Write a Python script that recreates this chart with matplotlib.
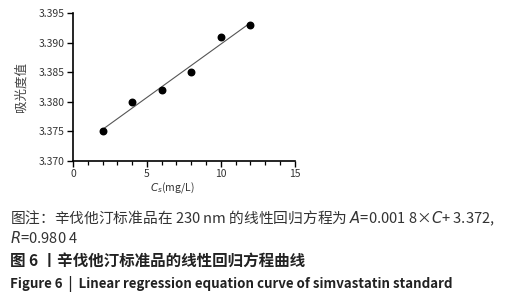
import numpy as np
import matplotlib
matplotlib.use("Agg")
import matplotlib.pyplot as plt
from matplotlib.ticker import MultipleLocator

plt.rcParams['font.family'] = ['Noto Sans CJK SC', 'DejaVu Sans']

conc = [2, 4, 6, 8, 10, 12]
absorb = [3.375, 3.380, 3.382, 3.385, 3.391, 3.393]
xticks = [0, 5, 10, 15]
yticks = [3.370, 3.375, 3.380, 3.385, 3.390, 3.395]

fig = plt.figure(figsize=(5.1, 3.0), dpi=100)
ax = fig.add_axes([0.143, 0.463, 0.435, 0.494])

slope, intercept = np.polyfit(conc, absorb, 1)
xl = np.array([min(conc), max(conc)])
ax.plot(xl, slope * xl + intercept, color='#555555', lw=0.8, zorder=2)
ax.scatter(conc, absorb, s=22, color='black', zorder=3)

ax.set_xlim(0, 15)
ax.set_ylim(3.370, 3.395)
ax.set_xticks(xticks)
ax.set_yticks(yticks)
ax.set_yticklabels([f"{v:.3f}" for v in yticks])
ax.xaxis.set_minor_locator(MultipleLocator(1))
for s in ['top', 'right']:
    ax.spines[s].set_visible(False)
for s in ['left', 'bottom']:
    ax.spines[s].set_linewidth(1.2)
ax.tick_params(which='major', length=4, width=1.0, labelsize=7.5, labelcolor='#333333', pad=2)
ax.tick_params(which='minor', length=3, width=0.9)
ax.set_xlabel(r'$C_s$(mg/L)', fontsize=7.5, color='#333333', labelpad=3)
ax.xaxis.set_label_coords(0.45, -0.13)
ax.set_ylabel('吸光度值', fontsize=9, color='#444444', labelpad=8)

fig.text(0.02, 1 - 218/300, '图注：辛伐他汀标准品在 230 nm 的线性回归方程为 $A$=0.001 8×$C$+ 3.372,',
         fontsize=10.6, color='#333333', va='center')
fig.text(0.02, 1 - 238/300, '$R$=0.980 4', fontsize=10.6, color='#333333', va='center')
fig.text(0.02, 1 - 261/300, '图 6 丨辛伐他汀标准品的线性回归方程曲线', fontsize=11.2,
         color='#222222', va='center', fontweight='bold')
fig.text(0.02, 1 - 284/300, 'Figure 6  |  Linear regression equation curve of simvastatin standard',
         fontsize=9.6, color='#222222', va='center', fontweight='bold')

fig.savefig('out.png', dpi=100)
